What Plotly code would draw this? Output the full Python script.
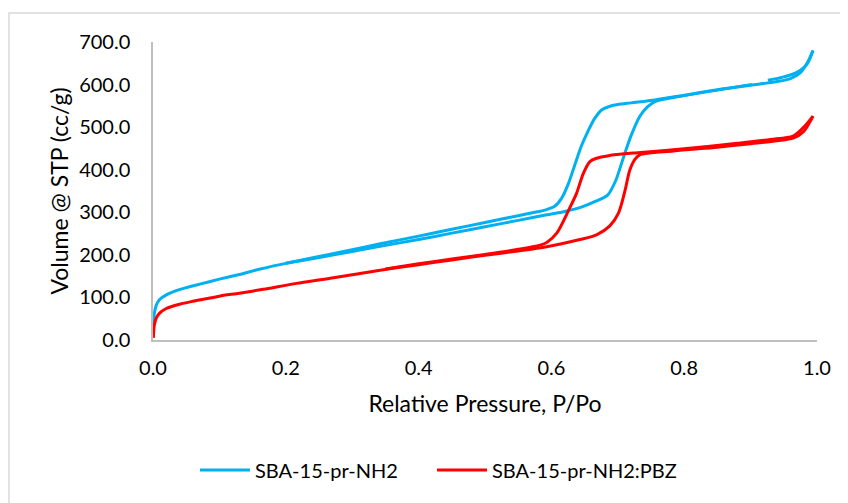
import plotly.graph_objects as go

# ---- data ----
blue_ads_p = [0.0005, 0.002, 0.005, 0.01, 0.02, 0.035, 0.05, 0.075, 0.10, 0.13, 0.16,
              0.20, 0.25, 0.30, 0.342, 0.40, 0.45, 0.50, 0.55, 0.593, 0.62, 0.645, 0.667, 0.685,
              0.697, 0.705, 0.712, 0.72, 0.733, 0.745, 0.756, 0.80, 0.85, 0.902, None, 0.926, 0.95, 0.969,
              0.985, 0.994]
blue_ads_v = [30, 62, 82, 95, 106, 116, 123, 133, 143, 154, 166,
              180, 194, 208, 220, 236, 251, 266, 281, 294, 302, 312, 326, 341,
              375, 412, 445, 480, 525, 548, 560, 574, 587, 600, None, 610, 618, 628,
              648, 680]
blue_des_p = [0.994, 0.985, 0.975, 0.96, 0.94, 0.926, 0.902, 0.85, 0.80, 0.756, 0.72, 0.70, 0.686,
              0.676, 0.665, 0.655, 0.645, 0.635, 0.625, 0.615, 0.605, 0.59, 0.575, 0.55, 0.50, 0.45,
              0.40, 0.342, 0.30, 0.25, 0.20]
blue_des_v = [680, 650, 628, 614, 607, 604, 599, 588, 575, 564, 557, 553, 548,
              541, 520, 490, 455, 410, 365, 332, 314, 305, 300, 292, 276, 260,
              244, 226, 212, 196, 180.5]

red_ads_p = [0.0005, 0.002, 0.005, 0.01, 0.02, 0.04, 0.06, 0.08, 0.10, 0.13, 0.166, 0.216, 0.267,
             0.342, 0.40, 0.45, 0.50, 0.55, 0.593, 0.643, 0.668, 0.688, 0.701, 0.711, 0.718, 0.726,
             0.733, 0.784, 0.85, 0.90, 0.94, 0.964, 0.98, 0.994]
red_ads_v = [5, 35, 52, 63, 74, 84, 91, 97, 103, 110, 119, 133, 145,
             164, 177, 188, 199, 209, 219, 236, 247, 268, 298, 352, 399, 425,
             435, 444, 453, 461, 468, 474, 490, 526]
red_des_p = [0.994, 0.98, 0.964, 0.93, 0.88, 0.80, 0.73, 0.686, 0.668, 0.658, 0.648, 0.638, 0.626,
             0.608, 0.593, 0.583, 0.55, 0.50, 0.45, 0.40, 0.35]
red_des_v = [526, 500, 479, 471, 462, 449, 440, 433, 427, 419, 391, 345, 305,
             251, 229, 223, 213, 201, 190, 179, 167]

series_names = ["SBA-15-pr-NH2", "SBA-15-pr-NH2:PBZ"]
series_colors = ["#00B0F0", "#FF0000"]
x_ticks = [0.0, 0.2, 0.4, 0.6, 0.8, 1.0]
y_ticks = [0, 100, 200, 300, 400, 500, 600, 700]

FONT = "Lato"
BODY = 8  # default page margin of the html body

fig = go.Figure()
fig.add_trace(go.Scatter(
    x=blue_ads_p + [None] + blue_des_p, y=blue_ads_v + [None] + blue_des_v,
    mode="lines", name=series_names[0], connectgaps=False, legend="legend",
    line=dict(color=series_colors[0], width=3, shape="spline", smoothing=0.8)))
fig.add_trace(go.Scatter(
    x=red_ads_p + [None] + red_des_p, y=red_ads_v + [None] + red_des_v,
    mode="lines", name=series_names[1], connectgaps=False, legend="legend2",
    line=dict(color=series_colors[1], width=3, shape="spline", smoothing=0.8)))

leg_common = dict(orientation="h", y=-0.436, xanchor="left", yanchor="middle",
                  font=dict(family=FONT, size=20, color="#000000"),
                  itemwidth=50, bgcolor="rgba(0,0,0,0)")

fig.update_layout(
    width=848, height=503,
    margin=dict(l=153 - BODY, r=31 + BODY, t=42 - BODY, b=163 + BODY),
    paper_bgcolor="white", plot_bgcolor="white",
    font=dict(family=FONT, size=20, color="#000000"),
    showlegend=True,
    legend=dict(x=(195 - 153) / 664, **leg_common),
    legend2=dict(x=(432 - 153) / 664, **leg_common),
    shapes=[dict(type="rect", xref="paper", yref="paper",
                 x0=(9 - 153) / 664, x1=1.2, y0=(340 - 13) / 298, y1=-1.0,
                 line=dict(color="#D9D9D9", width=1.5), fillcolor="rgba(0,0,0,0)", layer="below")],
)
fig.update_xaxes(
    range=[0, 1], tickvals=x_ticks, ticktext=[f"{v:.1f}" for v in x_ticks],
    showgrid=False, zeroline=False, showline=True, linecolor="#BFBFBF", linewidth=1.5,
    ticks="", ticklabelstandoff=9,
    title=dict(text="Relative Pressure, P/Po", standoff=18, font=dict(family=FONT, size=23)))
fig.update_yaxes(
    range=[0, 700], tickvals=y_ticks, ticktext=[f"{v:.1f}" for v in y_ticks],
    showgrid=False, zeroline=False, showline=True, linecolor="#BFBFBF", linewidth=1.5,
    ticks="", ticklabelstandoff=17,
    title=dict(text="Volume @ STP (cc/g)", standoff=4, font=dict(family=FONT, size=23)))

fig.write_html("out.html")
